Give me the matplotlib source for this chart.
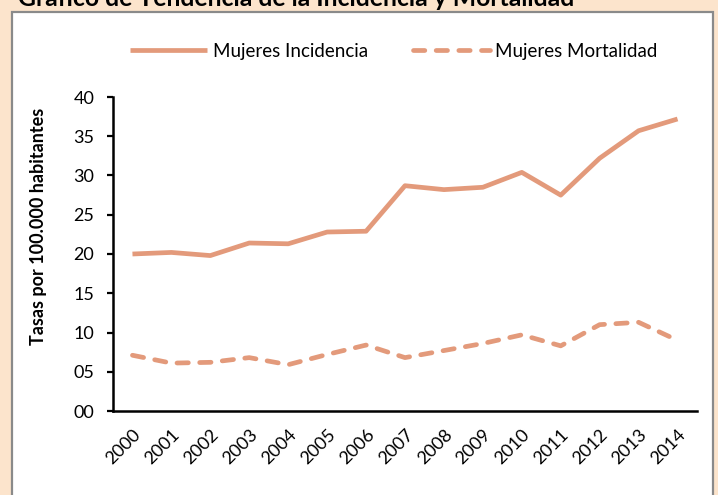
import matplotlib
matplotlib.use("Agg")
import matplotlib.pyplot as plt
from matplotlib.patches import Rectangle

years = ["2000", "2001", "2002", "2003", "2004", "2005", "2006", "2007",
         "2008", "2009", "2010", "2011", "2012", "2013", "2014"]
incidencia = [20.0, 20.2, 19.8, 21.4, 21.3, 22.8, 22.9, 28.7,
              28.2, 28.5, 30.4, 27.5, 32.2, 35.7, 37.2]
mortalidad = [7.1, 6.1, 6.2, 6.8, 5.9, 7.2, 8.4, 6.8,
              7.7, 8.6, 9.7, 8.3, 11.0, 11.3, 9.0]
y_ticks = [0, 5, 10, 15, 20, 25, 30, 35, 40]

W, H = 718, 495
LINE = "#E39A7B"
plt.rcParams["font.family"] = ["Lato", "DejaVu Sans"]

fig = plt.figure(figsize=(W / 100, H / 100), dpi=100, facecolor="#FCE4CC")

# white chart panel with grey border, running off the bottom edge
fig.patches.append(Rectangle((12 / W, -0.05), 701 / W, (H - 12) / H + 0.05,
                             transform=fig.transFigure, facecolor="white",
                             edgecolor="#8A8A8A", linewidth=1.6, zorder=-10))

fig.text(18 / W, 1 - 6 / H, "Gráfico de Tendencia de la Incidencia y Mortalidad",
         fontsize=17.8, fontweight="bold", ha="left", va="baseline")

ax = fig.add_axes([113 / W, 84 / H, 584 / W, 314 / H])
ax.set_facecolor("none")
x = list(range(len(years)))
ax.plot(x, incidencia, color=LINE, lw=3.4, solid_capstyle="butt",
        solid_joinstyle="round", label="Mujeres Incidencia")
ax.plot(x, mortalidad, color=LINE, lw=3.4, dashes=(2.4, 2.4),
        dash_capstyle="round", dash_joinstyle="round", label="Mujeres Mortalidad")

ax.set_xlim(-0.5, len(years) - 0.5)
ax.set_ylim(0, 40)
ax.set_yticks(y_ticks)
ax.set_yticklabels([f"{v:02d}" for v in y_ticks], fontsize=13)
ax.set_xticks(x)
ax.set_xticklabels(years, fontsize=13, rotation=45, ha="right",
                   rotation_mode="anchor")
ax.tick_params(axis="x", length=0, pad=11)
ax.tick_params(axis="y", length=4.5, width=1.6, direction="out", pad=9)
for s in ("top", "right"):
    ax.spines[s].set_visible(False)
for s in ("left", "bottom"):
    ax.spines[s].set_linewidth(1.8)
ax.set_ylabel("Tasas por 100.000 habitantes", fontsize=13, fontweight="bold")
ax.yaxis.set_label_coords(47 / W, (H - 226) / H, transform=fig.transFigure)

ax.legend(loc="center", bbox_to_anchor=(394 / W, 1 - 51 / H),
          bbox_transform=fig.transFigure, ncol=2, frameon=False,
          fontsize=13.5, handlelength=4.1, handletextpad=0.3, columnspacing=2.4)

fig.savefig("out.png", dpi=100, facecolor=fig.get_facecolor())
